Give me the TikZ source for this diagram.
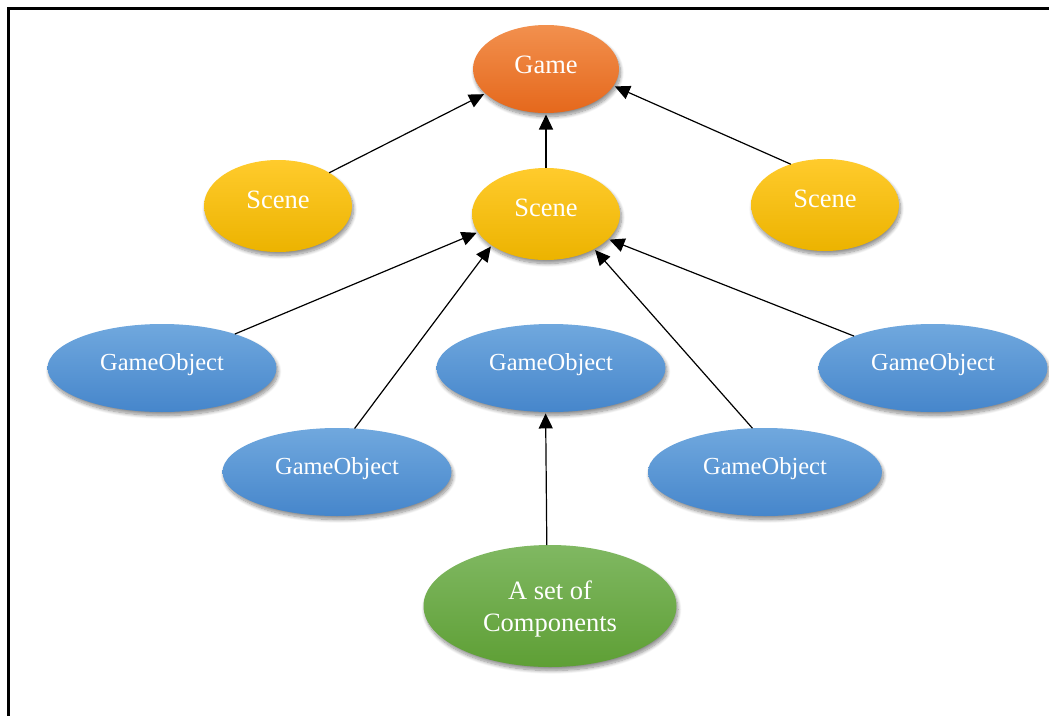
\documentclass[tikz,border=0pt]{standalone}
\usepackage{fontspec}
\setmainfont{Liberation Serif}
\usetikzlibrary{shapes.geometric,arrows.meta,shadows.blur}

\definecolor{gameTop}{HTML}{F2904E}
\definecolor{gameBot}{HTML}{E5681C}
\definecolor{sceneTop}{HTML}{FFCB2C}
\definecolor{sceneBot}{HTML}{ECB300}
\definecolor{objTop}{HTML}{70A8DE}
\definecolor{objBot}{HTML}{4686CB}
\definecolor{compTop}{HTML}{80B862}
\definecolor{compBot}{HTML}{5E9F35}

% lower a line of text without changing its reported size
\newcommand{\lowerline}[1]{\raisebox{-3pt}[\height][\depth]{#1}}

\begin{document}
\begin{tikzpicture}[x=1pt,y=-1pt,
  bubble/.style={ellipse, inner sep=0pt, outer sep=0pt, text=white,
    blur shadow={shadow xshift=1.5pt, shadow yshift=-3.5pt,
      shadow blur radius=3.5pt, shadow blur steps=10, shadow opacity=45}},
  gametext/.style={font=\fontsize{26.5}{32}\selectfont, text height=12pt, text depth=4pt},
  scenetext/.style={font=\fontsize{26.5}{32}\selectfont, text height=12pt, text depth=8pt},
  objtext/.style={font=\fontsize{24.5}{30}\selectfont, text height=10pt, text depth=5pt},
  gamenode/.style={bubble, gametext, top color=gameTop, bottom color=gameBot,
    minimum width=146pt, minimum height=88pt},
  scenenode/.style={bubble, scenetext, top color=sceneTop, bottom color=sceneBot,
    minimum width=148pt, minimum height=92pt},
  objnode/.style={bubble, objtext, top color=objTop, bottom color=objBot,
    minimum width=229pt, minimum height=88pt},
  compnode/.style={bubble, top color=compTop, bottom color=compBot,
    font=\fontsize{26.5}{32}\selectfont, align=center,
    minimum width=253pt, minimum height=122pt},
  arr/.style={-{Triangle[length=15pt,width=14pt]}, line width=1.2pt, black,
    shorten >=1.5pt},
]
\useasboundingbox (0,0) rectangle (1049,715);

% outer frame, running off the right and bottom edges
\draw[line width=3pt] (8.5,730) -- (8.5,8.5) -- (1060,8.5);

% hierarchy
\node[gamenode]  (game)   at (546,69)  {Game};
\node[scenenode] (sceneL) at (278,206) {Scene};
\node[scenenode] (sceneC) at (546,214) {Scene};
\node[scenenode] (sceneR) at (825,205) {Scene};

\node[objnode] (objL)  at (162,368) {GameObject};
\node[objnode] (objC)  at (551,368) {GameObject};
\node[objnode] (objR)  at (933,368) {GameObject};
\node[objnode] (objLL) at (337,472) {GameObject};
\node[objnode, minimum width=234pt] (objLR) at (765,472) {GameObject};

\node[compnode] (comp) at (550,606) {\lowerline{A set of}\\\lowerline{Components}};

% ownership arrows (child points to parent)
\draw[arr] (sceneL.33)  -- (game.202);
\draw[arr] (sceneC.90)  -- (game.270);
\draw[arr] (sceneR.130) -- (game.-14);

\draw[arr] (objL.25.6)   -- (sceneC.195.6);
\draw[arr] (objLL.68)    -- (sceneC.210.6);
\draw[arr] (objLR.106.5) -- (sceneC.-36.5);
\draw[arr] (objR.158.5)  -- (sceneC.-22.9);

\draw[arr] (comp.93.7) -- (objC.263.7);
\end{tikzpicture}
\end{document}
